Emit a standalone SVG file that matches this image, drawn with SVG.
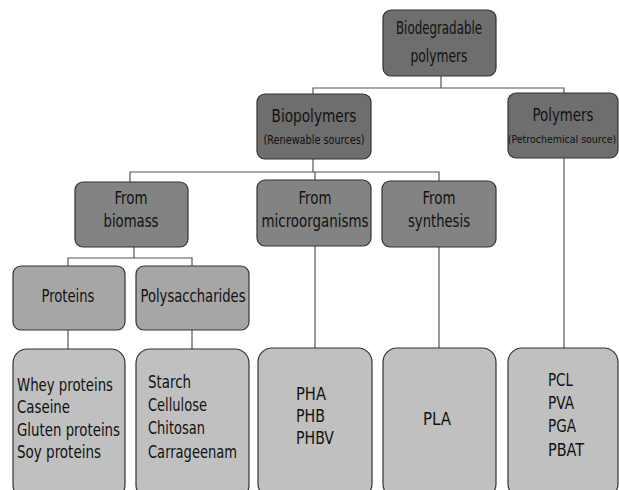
<svg xmlns="http://www.w3.org/2000/svg" width="619" height="490" viewBox="0 0 619 490">
<style>
.b{stroke:#333;stroke-width:1.2}
.l1{fill:#6e6e6e}.l2{fill:#838383}.l3{fill:#a6a6a6}.l4{fill:#c0c0c0}
text{font-family:"DejaVu Sans Condensed","DejaVu Sans",sans-serif;font-stretch:condensed;fill:#111;font-size:18px}
.c{text-anchor:middle}
.s{font-size:13px}
.t{font-size:10.5px}
#conn path{fill:none;stroke:#555;stroke-width:1.2}
</style>
<rect width="619" height="490" fill="#fff"/>
<g id="conn">
<path d="M441 76V88M313 94V88H564V93"/>
<path d="M313 159V172M130 182V172H439V181M315 180V172"/>
<path d="M134 247V258M68 266V258H192V266"/>
<path d="M68 330V349M192 330V349M315 246V348M439 247V348M564 158V348"/>
</g>
<g id="n-root"><rect class="b l1" x="383" y="10" width="113" height="66" rx="8"/><text class="c" x="439" y="34" textLength="86" lengthAdjust="spacingAndGlyphs">Biodegradable</text><text class="c" x="439" y="62" textLength="57" lengthAdjust="spacingAndGlyphs">polymers</text></g>
<g id="n-bio"><rect class="b l1" x="257" y="94" width="114" height="65" rx="8"/><text class="c" x="314" y="122" textLength="85" lengthAdjust="spacingAndGlyphs">Biopolymers</text><text class="c s" x="314" y="144" textLength="101" lengthAdjust="spacingAndGlyphs">(Renewable sources)</text></g>
<g id="n-poly"><rect class="b l1" x="508" y="93" width="110" height="65" rx="8"/><text class="c" x="563" y="121" textLength="61" lengthAdjust="spacingAndGlyphs">Polymers</text><text class="c t" x="562" y="143">(Petrochemical source)</text></g>
<g id="n-biomass"><rect class="b l2" x="75" y="182" width="113" height="65" rx="8"/><text class="c" x="131" y="204" textLength="33" lengthAdjust="spacingAndGlyphs">From</text><text class="c" x="131" y="227" textLength="55" lengthAdjust="spacingAndGlyphs">biomass</text></g>
<g id="n-micro"><rect class="b l2" x="257" y="180" width="114" height="66" rx="8"/><text class="c" x="315" y="204" textLength="33" lengthAdjust="spacingAndGlyphs">From</text><text class="c" x="315" y="227" textLength="107" lengthAdjust="spacingAndGlyphs">microorganisms</text></g>
<g id="n-synth"><rect class="b l2" x="382" y="181" width="114" height="66" rx="8"/><text class="c" x="439" y="204" textLength="33" lengthAdjust="spacingAndGlyphs">From</text><text class="c" x="439" y="227" textLength="62" lengthAdjust="spacingAndGlyphs">synthesis</text></g>
<g id="n-prot"><rect class="b l3" x="13" y="266" width="112" height="64" rx="8"/><text class="c" x="68" y="302" textLength="53" lengthAdjust="spacingAndGlyphs">Proteins</text></g>
<g id="n-polys"><rect class="b l3" x="136" y="266" width="113" height="64" rx="8"/><text class="c" x="193" y="302" textLength="105" lengthAdjust="spacingAndGlyphs">Polysaccharides</text></g>
<g id="n-protlist"><rect class="b l4" x="13" y="349" width="112" height="150" rx="14"/><text x="17" y="391" textLength="96" lengthAdjust="spacingAndGlyphs">Whey proteins</text><text x="17" y="413" textLength="53" lengthAdjust="spacingAndGlyphs">Caseine</text><text x="17" y="436" textLength="103" lengthAdjust="spacingAndGlyphs">Gluten proteins</text><text x="17" y="458" textLength="84" lengthAdjust="spacingAndGlyphs">Soy proteins</text></g>
<g id="n-polyslist"><rect class="b l4" x="136" y="349" width="113" height="150" rx="14"/><text x="148" y="388" textLength="43" lengthAdjust="spacingAndGlyphs">Starch</text><text x="148" y="411" textLength="59" lengthAdjust="spacingAndGlyphs">Cellulose</text><text x="148" y="434" textLength="57" lengthAdjust="spacingAndGlyphs">Chitosan</text><text x="148" y="458" textLength="89" lengthAdjust="spacingAndGlyphs">Carrageenam</text></g>
<g id="n-pha"><rect class="b l4" x="258" y="348" width="114" height="150" rx="14"/><text x="296" y="400" textLength="30" lengthAdjust="spacingAndGlyphs">PHA</text><text x="296" y="422" textLength="29" lengthAdjust="spacingAndGlyphs">PHB</text><text x="296" y="444" textLength="38" lengthAdjust="spacingAndGlyphs">PHBV</text></g>
<g id="n-pla"><rect class="b l4" x="383" y="348" width="113" height="150" rx="14"/><text class="c" x="437" y="425" textLength="28" lengthAdjust="spacingAndGlyphs">PLA</text></g>
<g id="n-pcl"><rect class="b l4" x="508" y="348" width="110" height="150" rx="14"/><text x="548" y="386" textLength="25" lengthAdjust="spacingAndGlyphs">PCL</text><text x="548" y="409" textLength="26" lengthAdjust="spacingAndGlyphs">PVA</text><text x="548" y="432" textLength="28" lengthAdjust="spacingAndGlyphs">PGA</text><text x="548" y="456" textLength="36" lengthAdjust="spacingAndGlyphs">PBAT</text></g>
</svg>
